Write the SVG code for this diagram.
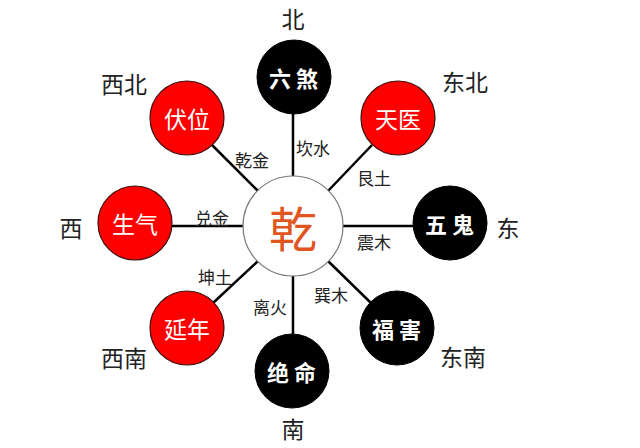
<svg xmlns="http://www.w3.org/2000/svg" width="640" height="448" viewBox="0 0 640 448">
<style>
.red{fill:#ff0000;stroke:#3a1010;stroke-width:1.2}
.blk{fill:#000;stroke:#000;stroke-width:1}
.nt{font-family:"Noto Sans CJK SC",sans-serif;font-size:23px;fill:#fff;text-anchor:middle;dominant-baseline:central}
.bt{font-family:"Noto Sans CJK SC",sans-serif;font-size:22px;font-weight:bold;fill:#fff;text-anchor:middle;dominant-baseline:central;letter-spacing:5px}
.dir{font-family:"Noto Sans CJK SC",sans-serif;font-size:23px;fill:#222;text-anchor:middle;dominant-baseline:central}
.lb{font-family:"Noto Sans CJK SC",sans-serif;font-size:17px;fill:#222;text-anchor:middle;dominant-baseline:central}
.ln{stroke:#000;stroke-width:2.5}
</style>
<rect width="640" height="448" fill="#fff"/>
<g id="connectors">
<line class="ln" x1="293" y1="176" x2="293" y2="112"/>
<line class="ln" x1="328" y1="191" x2="372" y2="145"/>
<line class="ln" x1="343" y1="226" x2="413" y2="226"/>
<line class="ln" x1="328" y1="261" x2="371" y2="303"/>
<line class="ln" x1="293" y1="276" x2="293" y2="334"/>
<line class="ln" x1="258" y1="261" x2="213" y2="303"/>
<line class="ln" x1="243" y1="226" x2="172" y2="226"/>
<line class="ln" x1="258" y1="191" x2="212" y2="145"/>
<text class="lb" x="252" y="159">乾金</text>
<text class="lb" x="313" y="147">坎水</text>
<text class="lb" x="374" y="177">艮土</text>
<text class="lb" x="212" y="217">兑金</text>
<text class="lb" x="374" y="241">震木</text>
<text class="lb" x="215" y="276">坤土</text>
<text class="lb" x="331" y="294">巽木</text>
<text class="lb" x="270" y="306">离火</text>
</g>
<g id="center">
<circle cx="293" cy="226" r="50" fill="#fff" stroke="#777" stroke-width="1.2"/>
<text x="293" y="226" font-family="'Noto Sans CJK SC',sans-serif" font-size="48" fill="#e0561e" text-anchor="middle" dominant-baseline="central">乾</text>
</g>
<g id="n-north">
<circle class="blk" cx="294" cy="77" r="37"/>
<text class="bt" x="296" y="77">六煞</text>
<text class="dir" x="293" y="18">北</text>
</g>
<g id="n-northeast">
<circle class="red" cx="398" cy="118" r="37"/>
<text class="nt" x="398" y="118">天医</text>
<text class="dir" x="465" y="81">东北</text>
</g>
<g id="n-east">
<circle class="blk" cx="450" cy="223" r="37"/>
<text class="bt" x="452" y="223">五鬼</text>
<text class="dir" x="508" y="227">东</text>
</g>
<g id="n-southeast">
<circle class="blk" cx="397" cy="328" r="37"/>
<text class="bt" x="399" y="328">福害</text>
<text class="dir" x="463" y="356">东南</text>
</g>
<g id="n-south">
<circle class="blk" cx="292" cy="371" r="37"/>
<text class="bt" x="294" y="371">绝命</text>
<text class="dir" x="293" y="428">南</text>
</g>
<g id="n-southwest">
<circle class="red" cx="187" cy="328" r="37"/>
<text class="nt" x="187" y="328">延年</text>
<text class="dir" x="124" y="357">西南</text>
</g>
<g id="n-west">
<circle class="red" cx="135" cy="223" r="37"/>
<text class="nt" x="135" y="223">生气</text>
<text class="dir" x="71" y="227">西</text>
</g>
<g id="n-northwest">
<circle class="red" cx="187" cy="118" r="37"/>
<text class="nt" x="187" y="118">伏位</text>
<text class="dir" x="124" y="83">西北</text>
</g>
</svg>
